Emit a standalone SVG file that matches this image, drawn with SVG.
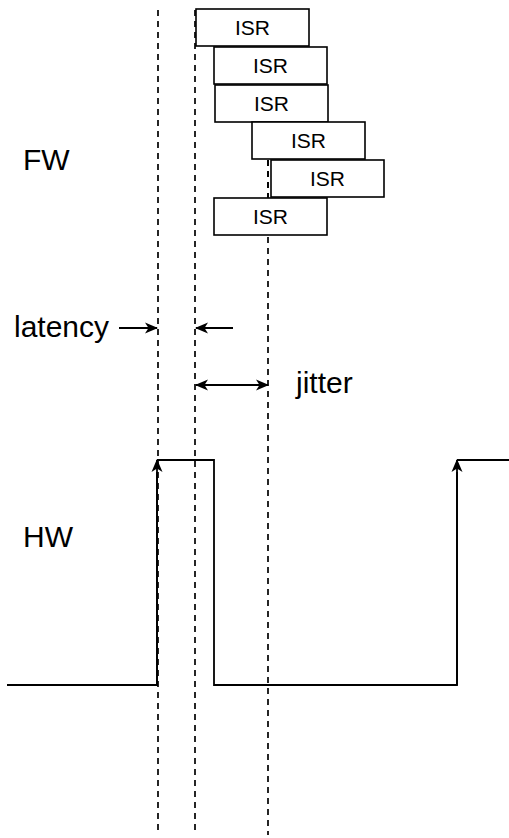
<svg xmlns="http://www.w3.org/2000/svg" width="509" height="838" viewBox="0 0 509 838">
<style>
.box{fill:#fff;stroke:#000;stroke-width:1.6}
.dash{fill:none;stroke:#000;stroke-width:1.7;stroke-dasharray:6 5}
.wire{fill:none;stroke:#000;stroke-width:1.8}
.isr{font-family:"Liberation Sans",Arial,sans-serif;font-size:21px;text-anchor:middle;fill:#000}
.lbl{font-family:"Liberation Sans",Arial,sans-serif;font-size:30px;fill:#000}
</style>
<defs>
<marker id="ah" viewBox="0 0 13 12" refX="12" refY="6" markerWidth="13" markerHeight="12" markerUnits="userSpaceOnUse" orient="auto-start-reverse">
<path d="M0,0.5 L13,6 L0,11.5 L3.5,6 Z" fill="#000"/>
</marker>
</defs>
<g id="guides">
<line class="dash" x1="158" y1="10" x2="158" y2="835"/>
<line class="dash" x1="195" y1="10" x2="195" y2="835"/>
<line class="dash" x1="268" y1="160" x2="268" y2="835"/>
</g>
<g id="isr1"><rect class="box" x="196" y="9" width="113" height="37"/><text class="isr" x="252.5" y="35">ISR</text></g>
<g id="isr2"><rect class="box" x="214" y="47" width="113" height="37"/><text class="isr" x="270.5" y="73">ISR</text></g>
<g id="isr3"><rect class="box" x="215" y="85" width="113" height="37"/><text class="isr" x="271.5" y="111">ISR</text></g>
<g id="isr4"><rect class="box" x="252" y="122" width="113" height="37"/><text class="isr" x="308.5" y="148">ISR</text></g>
<g id="isr5"><rect class="box" x="271" y="160" width="113" height="37"/><text class="isr" x="327.5" y="186">ISR</text></g>
<g id="isr6"><rect class="box" x="214" y="198" width="113" height="37"/><text class="isr" x="270.5" y="224">ISR</text></g>
<line class="dash" x1="268" y1="160" x2="268" y2="197"/>
<g id="fw"><text class="lbl" x="23" y="170">FW</text></g>
<g id="hw"><text class="lbl" x="23" y="547">HW</text></g>
<g id="latency"><text class="lbl" x="14" y="337">latency</text></g>
<g id="jitter"><text class="lbl" x="296" y="393">jitter</text></g>
<g id="connectors">
<line class="wire" x1="119" y1="328" x2="157" y2="328" marker-end="url(#ah)"/>
<line class="wire" x1="233" y1="328" x2="196" y2="328" marker-end="url(#ah)"/>
<line class="wire" x1="196" y1="385" x2="268" y2="385" marker-start="url(#ah)" marker-end="url(#ah)"/>
<path class="wire" d="M7,685 H157 V472"/>
<line class="wire" x1="157" y1="685" x2="157" y2="460" marker-end="url(#ah)"/>
<path class="wire" d="M157,460 H214 V685 H457 V472"/>
<line class="wire" x1="457" y1="685" x2="457" y2="460" marker-end="url(#ah)"/>
<path class="wire" d="M457,460 H509"/>
</g>
</svg>
